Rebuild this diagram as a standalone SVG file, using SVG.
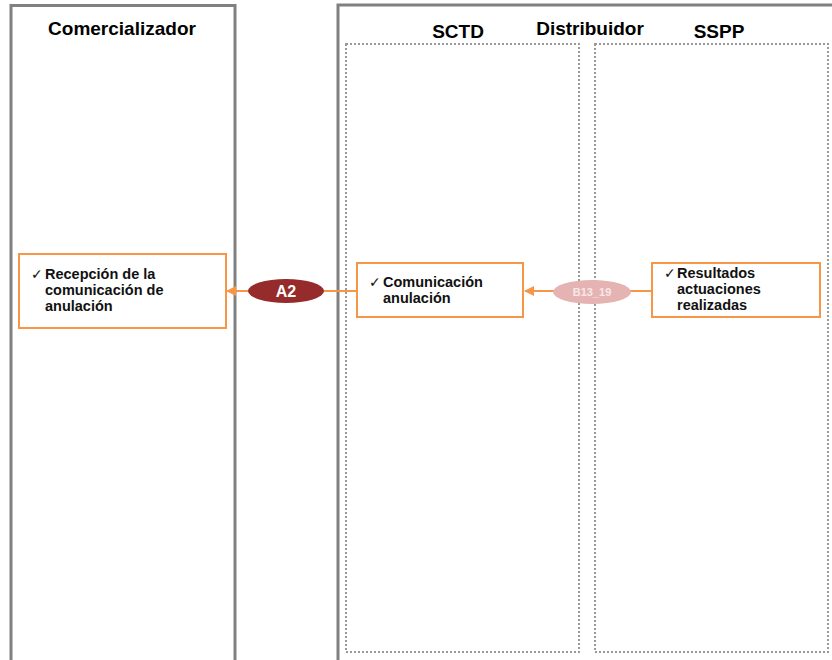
<svg xmlns="http://www.w3.org/2000/svg" width="832" height="660" viewBox="0 0 832 660">
<style>
.lane{fill:#fff;stroke:#808080;stroke-width:3}
.sub{fill:none;stroke:#999;stroke-width:2;stroke-dasharray:2,2}
.title{font-family:"Liberation Sans",Arial,sans-serif;font-weight:bold;font-size:19px;fill:#000;text-anchor:middle}
.node{fill:#fff;stroke:#F79646;stroke-width:2}
.txt{font-family:"Liberation Sans",Arial,sans-serif;font-weight:bold;font-size:14.5px;fill:#111}
.chk{font-family:"DejaVu Sans",sans-serif;font-weight:normal;font-size:14px;fill:#111}
.conn{fill:none;stroke:#F79646;stroke-width:2}
</style>
<defs>
<marker id="arr" viewBox="0 0 10 10" refX="9" refY="5" markerWidth="5" markerHeight="5" orient="auto" markerUnits="strokeWidth">
<path d="M0,0 L10,5 L0,10 z" fill="#F79646"/>
</marker>
</defs>
<rect width="832" height="660" fill="#fff"/>
<g id="lane-comercializador">
<rect class="lane" x="11" y="5.5" width="224" height="670"/>
<text class="title" x="122" y="35">Comercializador</text>
</g>
<g id="lane-distribuidor">
<rect class="lane" x="338" y="5" width="520" height="670"/>
<text class="title" x="590" y="35">Distribuidor</text>
</g>
<g id="sub-sctd">
<rect class="sub" x="346" y="44" width="233" height="608"/>
<text class="title" x="458" y="38">SCTD</text>
</g>
<g id="sub-sspp">
<rect class="sub" x="595" y="44" width="233" height="608"/>
<text class="title" x="719" y="38">SSPP</text>
</g>
<g id="connectors">
<line class="conn" x1="652" y1="291" x2="525" y2="291" marker-end="url(#arr)"/>
<line class="conn" x1="357" y1="291" x2="227" y2="291" marker-end="url(#arr)"/>
</g>
<g id="label-b13_19">
<ellipse cx="592" cy="292" rx="39" ry="12" fill="#E6B3B3"/>
<text x="592" y="296" font-family="Liberation Sans,Arial,sans-serif" font-weight="bold" font-size="11" fill="#F8E8E8" text-anchor="middle">B13_19</text>
</g>
<g id="label-a2">
<ellipse cx="286" cy="291" rx="38" ry="12" fill="#952B2B"/>
<text x="286" y="297" font-family="Liberation Sans,Arial,sans-serif" font-weight="bold" font-size="16" fill="#fff" text-anchor="middle">A2</text>
</g>
<g id="node-recepcion">
<rect class="node" x="19" y="254" width="207" height="74"/>
<text class="chk" x="31" y="279">✓</text>
<text class="txt" x="45" y="279">Recepción de la</text>
<text class="txt" x="45" y="295">comunicación de</text>
<text class="txt" x="45" y="311">anulación</text>
</g>
<g id="node-comunicacion">
<rect class="node" x="357" y="263" width="166" height="54"/>
<text class="chk" x="369" y="287">✓</text>
<text class="txt" x="383" y="287">Comunicación</text>
<text class="txt" x="383" y="303">anulación</text>
</g>
<g id="node-resultados">
<rect class="node" x="652" y="263" width="168" height="54"/>
<text class="chk" x="664" y="278">✓</text>
<text class="txt" x="677" y="278">Resultados</text>
<text class="txt" x="677" y="294">actuaciones</text>
<text class="txt" x="677" y="310">realizadas</text>
</g>
</svg>
